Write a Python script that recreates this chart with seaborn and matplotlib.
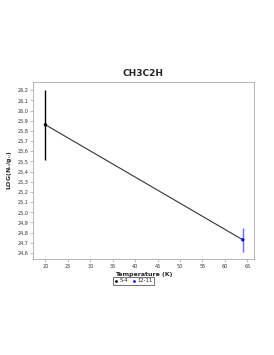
import matplotlib
matplotlib.use("Agg")
import matplotlib.pyplot as plt
import matplotlib.ticker as mticker
import seaborn as sns
import pandas as pd

transitions = ["5-4", "12-11"]
temperature = [20.0, 64.0]
log_nu_gu = [25.86, 24.73]
errors = [0.345, 0.115]
colors = ["#000000", "#0000ff"]
err_colors = ["#000000", "#6a6aff"]

df = pd.DataFrame({"Temperature": temperature, "logN": log_nu_gu, "Transition": transitions})

sns.set_style("white")
plt.rcParams["font.family"] = ["DejaVu Sans"]

fig = plt.figure(figsize=(2.74, 3.55), dpi=100)
ax = fig.add_axes([0.120, 0.270, 0.807, 0.499])

sns.lineplot(data=df, x="Temperature", y="logN", color="#333333", lw=0.8, ax=ax, legend=False)
for t, v, e, c in zip(temperature, log_nu_gu, errors, err_colors):
    ax.errorbar([t], [v], yerr=[e], fmt="none", ecolor=c, elinewidth=1.0, capsize=0)
sns.scatterplot(data=df, x="Temperature", y="logN", hue="Transition", palette=colors,
                s=6, edgecolor="none", ax=ax, zorder=5)

ax.set_xlim(17.2, 66.5)
ax.set_ylim(24.54, 26.28)
ax.set_xticks(range(20, 66, 5))
ax.set_yticks([24.6 + 0.1 * i for i in range(17)])
ax.yaxis.set_major_formatter(mticker.FuncFormatter(lambda v, p: f"{v:.1f}".replace(".", ",")))
ax.tick_params(axis="both", labelsize=3.5, length=2, width=0.4, color="#888888",
               pad=1.5, labelcolor="#333333", left=True, bottom=True)
for s in ax.spines.values():
    s.set_color("#aaaaaa")
    s.set_linewidth(0.6)

ax.set_title("CH3C2H", fontsize=6.5, fontweight="bold", pad=4)
ax.set_xlabel("Temperature (K)", fontsize=4.5, fontweight="bold", labelpad=2.5)
ax.set_ylabel("LOG(N$_u$/g$_u$)", fontsize=4.5, fontweight="bold", labelpad=2)

leg = ax.legend(loc="upper center", bbox_to_anchor=(0.455, -0.085), ncol=2, fontsize=3.8,
                frameon=True, fancybox=False, edgecolor="#333333", handletextpad=0.3,
                columnspacing=0.8, borderpad=0.3, markerscale=0.8, handlelength=0.6)
leg.get_frame().set_linewidth(0.6)

fig.savefig("out.png", dpi=100)
